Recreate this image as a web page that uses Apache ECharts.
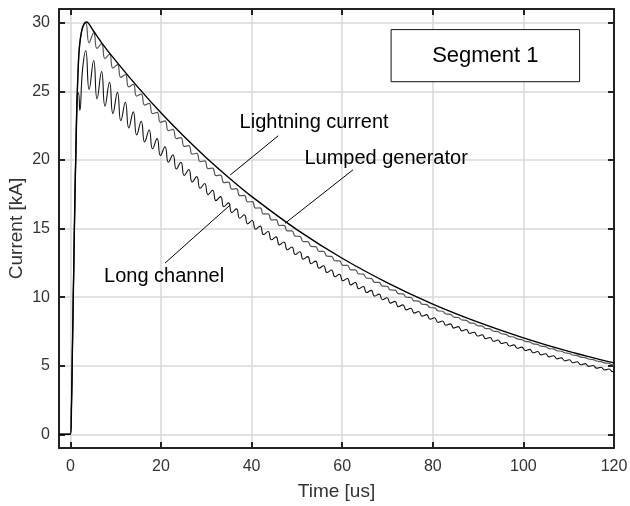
<!DOCTYPE html>
<html>
<head>
<meta charset="utf-8">
<script src="https://cdn.jsdelivr.net/npm/echarts@6/dist/echarts.min.js"></script>
<style>
html,body{margin:0;padding:0;background:#fff;}
#chart{width:630px;height:506px;}
</style>
</head>
<body>
<div id="chart"></div>
<script>
// ---- Data ----
const xTicks = [0, 20, 40, 60, 80, 100, 120];
const yTicks = [0, 5, 10, 15, 20, 25, 30];

// Lightning current (smooth curve)
const lightningTimes = [-2.5, 0, 0.25, 0.5, 0.75, 1, 1.25, 1.5, 1.75, 2, 2.5, 3, 3.6, 5, 7, 10, 15, 20, 25, 30, 35, 40, 50, 60, 70, 80, 90, 100, 110, 120];
const lightningCurrent = [0, 0, 2, 7, 12, 17, 21, 24.5, 26.8, 28.2, 29.4, 29.9, 30.05, 29.45, 28.5, 27.24, 25.27, 23.43, 21.74, 20.16, 18.70, 17.34, 14.92, 12.83, 11.04, 9.49, 8.17, 7.03, 6.04, 5.20];

// Rising fronts
const lumpedRiseTimes = [-2.5, 0, 0.25, 0.5, 0.75, 1, 1.25, 1.5, 1.75, 2, 2.5, 3];
const lumpedRise = [0, 0, 2, 7, 12, 17, 21, 24.5, 26.8, 28.2, 29.4, 29.85];
const longRiseTimes = [-2.5, 0, 0.25, 0.5, 0.75, 1, 1.25, 1.5, 1.8, 2.1, 2.7];
const longRise = [0, 0, 2, 7, 12, 17, 21, 24.6, 24.9, 23.6, 26.6];

// Oscillation peaks / troughs (time in us)
const oscTimes = [
  3.4, 4.15, 5.15, 5.9, 6.9, 7.65, 8.65, 9.4, 10.4, 11.15,
  12.15, 12.9, 13.9, 14.65, 15.65, 16.4, 17.4, 18.15, 19.15, 19.9,
  20.9, 21.65, 22.65, 23.4, 24.4, 25.15, 26.15, 26.9, 27.9, 28.65,
  29.65, 30.4, 31.4, 32.15, 33.15, 33.9, 34.9, 35.65, 36.65, 37.4,
  38.4, 39.15, 40.15, 40.9, 41.9, 42.65, 43.65, 44.4, 45.4, 46.15,
  47.15, 47.9, 48.9, 49.65, 50.65, 51.4, 52.4, 53.15, 54.15, 54.9,
  55.9, 56.65, 57.65, 58.4, 59.4, 60.15, 61.15, 61.9, 62.9, 63.65,
  64.65, 65.4, 66.4, 67.15, 68.15, 68.9, 69.9, 70.65, 71.65, 72.4,
  73.4, 74.15, 75.15, 75.9, 76.9, 77.65, 78.65, 79.4, 80.4, 81.15,
  82.15, 82.9, 83.9, 84.65, 85.65, 86.4, 87.4, 88.15, 89.15, 89.9,
  90.9, 91.65, 92.65, 93.4, 94.4, 95.15, 96.15, 96.9, 97.9, 98.65,
  99.65, 100.4, 101.4, 102.15, 103.15, 103.9, 104.9, 105.65, 106.65, 107.4,
  108.4, 109.15, 110.15, 110.9, 111.9, 112.65, 113.65, 114.4, 115.4, 116.15,
  117.15, 117.9, 118.9, 119.65
];
const lumpedOsc = [
  30.00, 28.55, 29.26, 28.13, 28.48, 27.39, 27.70, 26.69, 26.95, 26.01,
  26.22, 25.32, 25.50, 24.65, 24.80, 24.00, 24.12, 23.37, 23.47, 22.74,
  22.84, 22.14, 22.22, 21.55, 21.62, 20.98, 21.04, 20.42, 20.48, 19.88,
  19.93, 19.36, 19.40, 18.86, 18.89, 18.35, 18.38, 17.87, 17.90, 17.39,
  17.41, 16.94, 16.96, 16.49, 16.50, 16.05, 16.07, 15.63, 15.64, 15.22,
  15.23, 14.82, 14.83, 14.44, 14.43, 14.05, 14.05, 13.69, 13.68, 13.33,
  13.33, 12.98, 12.97, 12.65, 12.64, 12.31, 12.31, 11.99, 11.98, 11.69,
  11.68, 11.38, 11.37, 11.08, 11.07, 10.80, 10.79, 10.52, 10.51, 10.25,
  10.23, 9.99, 9.97, 9.73, 9.71, 9.48, 9.45, 9.24, 9.21, 9.00,
  8.97, 8.77, 8.74, 8.54, 8.51, 8.33, 8.30, 8.12, 8.08, 7.91,
  7.88, 7.71, 7.68, 7.51, 7.48, 7.33, 7.28, 7.13, 7.09, 6.95,
  6.90, 6.77, 6.73, 6.59, 6.55, 6.42, 6.39, 6.25, 6.22, 6.09,
  6.05, 5.94, 5.89, 5.78, 5.73, 5.63, 5.59, 5.49, 5.44, 5.34,
  5.30, 5.20, 5.16, 5.06
];
const longOsc = [
  27.96, 25.13, 27.25, 24.45, 26.44, 23.92, 25.66, 23.38, 24.92, 22.85,
  24.20, 22.33, 23.50, 21.82, 22.82, 21.31, 22.18, 20.81, 21.55, 20.32,
  20.96, 19.83, 20.38, 19.34, 19.83, 18.86, 19.30, 18.39, 18.78, 17.93,
  18.28, 17.47, 17.79, 17.03, 17.32, 16.59, 16.87, 16.16, 16.43, 15.75,
  16.00, 15.34, 15.58, 14.95, 15.17, 14.56, 14.78, 14.18, 14.39, 13.81,
  14.02, 13.45, 13.65, 13.10, 13.30, 12.76, 12.95, 12.43, 12.62, 12.10,
  12.29, 11.79, 11.97, 11.48, 11.66, 11.19, 11.36, 10.89, 11.06, 10.61,
  10.77, 10.33, 10.49, 10.07, 10.22, 9.81, 9.95, 9.56, 9.69, 9.30,
  9.43, 9.07, 9.19, 8.83, 8.95, 8.61, 8.72, 8.38, 8.49, 8.16,
  8.26, 7.95, 8.05, 7.74, 7.85, 7.54, 7.64, 7.35, 7.44, 7.16,
  7.25, 6.97, 7.06, 6.78, 6.87, 6.62, 6.69, 6.44, 6.52, 6.27,
  6.35, 6.11, 6.19, 5.94, 6.03, 5.79, 5.87, 5.64, 5.72, 5.50,
  5.57, 5.35, 5.43, 5.21, 5.29, 5.07, 5.15, 4.95, 5.01, 4.82,
  4.89, 4.69, 4.76, 4.57
];
const endTimes = [120];
const lumpedEnd = [5.05];
const longEnd = [4.60];

// ---- Build series data ----
function pairs(ts, vs) { return ts.map((t, i) => [t, vs[i]]); }
const lightningData = pairs(lightningTimes, lightningCurrent);
const lumpedData = pairs(lumpedRiseTimes, lumpedRise).concat(pairs(oscTimes, lumpedOsc), pairs(endTimes, lumpedEnd));
const longData = pairs(longRiseTimes, longRise).concat(pairs(oscTimes, longOsc), pairs(endTimes, longEnd));

const FONT = '"Liberation Sans", Arial, Helvetica, sans-serif';
const chart = echarts.init(document.getElementById('chart'), null, {renderer: 'canvas'});

function xAxisBase(pos) {
  return {
    type: 'value', position: pos, min: -2.5, max: 120,
    axisLine: {show: true, onZero: false, lineStyle: {color: '#222', width: 2}},
    axisTick: {show: true, inside: true, length: 6, customValues: xTicks, lineStyle: {color: '#222', width: 2}},
    axisLabel: {show: pos === 'bottom', customValues: xTicks, fontFamily: FONT, fontSize: 16, color: '#333', margin: 11},
    splitLine: {show: pos === 'bottom', lineStyle: {color: '#d9d9d9', width: 1.5}}
  };
}
function yAxisBase(pos) {
  return {
    type: 'value', position: pos, min: -1, max: 31,
    axisLine: {show: true, onZero: false, lineStyle: {color: '#222', width: 2}},
    axisTick: {show: true, inside: true, length: 6, customValues: yTicks, lineStyle: {color: '#222', width: 2}},
    axisLabel: {show: pos === 'left', customValues: yTicks, fontFamily: FONT, fontSize: 16, color: '#333', margin: 9},
    splitLine: {show: pos === 'left', lineStyle: {color: '#d9d9d9', width: 1.5}}
  };
}

const xb = xAxisBase('bottom');
xb.name = 'Time [us]';
xb.nameLocation = 'middle';
xb.nameGap = 34;
xb.nameMoveOverlap = false;
xb.nameTextStyle = {fontFamily: FONT, fontSize: 19, color: '#333'};
const yl = yAxisBase('left');
yl.name = 'Current [kA]';
yl.nameLocation = 'middle';
yl.nameGap = 33;
yl.nameMoveOverlap = false;
yl.nameTextStyle = {fontFamily: FONT, fontSize: 19, color: '#333'};

const textLabel = (txt) => ({show: true, position: 'inside', formatter: txt, fontFamily: FONT, fontSize: 20, color: '#000'});

chart.setOption({
  animation: false,
  backgroundColor: '#fff',
  grid: {left: 59, right: 16, top: 9, bottom: 58, containLabel: false, outerBoundsMode: 'none'},
  xAxis: [xb, xAxisBase('top')],
  yAxis: [yl, yAxisBase('right')],
  series: [
    {
      name: 'Long channel', type: 'line', data: longData, xAxisIndex: 0, yAxisIndex: 0,
      showSymbol: false, smooth: 0.5, lineStyle: {color: '#111', width: 1.1}, z: 3
    },
    {
      name: 'Lumped generator', type: 'line', data: lumpedData, xAxisIndex: 0, yAxisIndex: 0,
      showSymbol: false, smooth: 0.5, lineStyle: {color: '#555', width: 1.2}, z: 4
    },
    {
      name: 'Lightning current', type: 'line', data: lightningData, xAxisIndex: 0, yAxisIndex: 0,
      showSymbol: false, smooth: 0.3, lineStyle: {color: '#000', width: 1.4}, z: 5,
      markLine: {
        silent: true, symbol: ['none', 'none'], animation: false,
        label: {show: false},
        lineStyle: {color: '#000', width: 1, type: 'solid'},
        emphasis: {disabled: true},
        data: [
          [{coord: [45.9, 21.76]}, {coord: [35.3, 18.9]}],
          [{coord: [62.4, 19.28]}, {coord: [47.4, 15.38]}],
          [{coord: [20.9, 12.48]}, {coord: [35.3, 16.72]}]
        ]
      },
      markPoint: {
        silent: true, symbol: 'circle', symbolSize: 1, animation: false,
        itemStyle: {color: 'rgba(0,0,0,0)'},
        data: [
          {coord: [53.8, 22.7], label: textLabel('Lightning current')},
          {coord: [69.7, 20.1], label: textLabel('Lumped generator')},
          {coord: [20.7, 11.5], label: textLabel('Long channel')}
        ]
      },
      markArea: {
        silent: true,
        itemStyle: {color: '#fff', borderColor: '#111', borderWidth: 1},
        label: {show: true, position: 'inside', formatter: 'Segment 1', fontFamily: FONT, fontSize: 22, color: '#000'},
        data: [[{coord: [70.8, 29.5]}, {coord: [112.4, 25.7]}]]
      }
    }
  ]
});
</script>
</body>
</html>
